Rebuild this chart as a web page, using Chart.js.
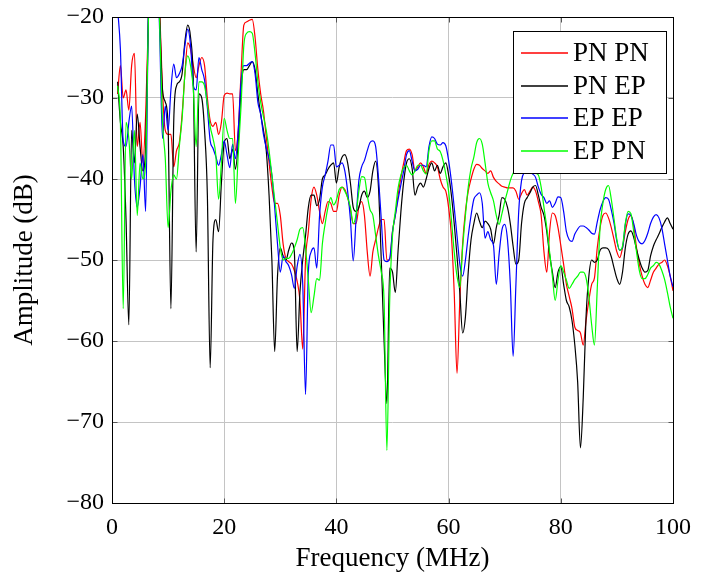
<!DOCTYPE html>
<html>
<head>
<meta charset="utf-8">
<script src="https://cdn.jsdelivr.net/npm/chart.js@4.4.0/dist/chart.umd.min.js"></script>
<style>
html,body{margin:0;padding:0;background:#fff;}
#wrap{width:722px;height:574px;}
</style>
</head>
<body>
<div id="wrap"><canvas id="c" width="722" height="574"></canvas></div>
<script>
// sample grid: 1 .. 100 MHz every 0.5 MHz (rows below = 5 MHz each)
const FREQ_START = 1, FREQ_STEP = 0.5;

const pnpn = [
-29.5,-26,-30,-29,-31.5,-26,-24.5,-36,-33,-38,
-32,-20,-12,-12,-12,-19,-29,-34,-34.5,-34.5,
-38.5,-36.5,-35.5,-32,-27,-23.2,-24,-26,-27.5,-26,
-25,-26,-30,-32.8,-33.5,-33,-34.5,-33,-29.7,-29.4,
-29.5,-29.5,-36.5,-34,-27,-21,-20.6,-20.4,-20.3,-22.5,
-26.5,-29.5,-31.6,-34.8,-38,-41,-43,-43,-44.5,-48,
-49.8,-50.2,-50.5,-51.3,-52.6,-55,-61,-50,-46.5,-42.5,
-41,-42,-44,-45.5,-44,-42.8,-43,-44,-44,-42,
-41,-41.3,-42.3,-43.8,-45.5,-45.5,-43.5,-42.8,-44.5,-49,
-52,-49,-47.5,-46,-45,-45,-50,-50,-46.5,-44.5,
-42,-39.8,-38,-36.5,-36.3,-37,-39,-38.5,-38,-38.5,
-39.3,-38.2,-37.8,-38,-38.5,-40,-41,-41.5,-43.5,-47,
-54,-64,-55,-48,-44,-41.5,-40,-38.8,-38.2,-38.3,
-38.7,-39,-39.3,-39,-39.8,-40.3,-40.6,-40.9,-41,-41.1,
-41.1,-41.1,-41.5,-42.5,-41.8,-41.3,-42,-41.5,-41,-41.5,
-42.8,-44.5,-49,-51.5,-46.5,-44.2,-44.5,-46,-48.2,-50.5,
-53,-54.5,-56,-58.3,-58.7,-59,-60.5,-57.5,-55,-53,
-52.2,-48.5,-46,-44.5,-44.2,-44.8,-46,-47.5,-49,-49.7,
-48.5,-46.5,-45,-44.5,-45.8,-48.5,-50.5,-52,-53,-53.4,
-52.5,-51.5,-51,-50.5,-50.3,-50,-50.7,-52,-53.8
];

const pnep = [
-28,-33,-36,-45,-58,-34,-38,-32,-36,-39,
-36,-20,-12,-12,-12,-20,-29,-30.5,-33.5,-56,
-33,-28.5,-28,-27,-23,-21,-22.5,-28,-49,-29.5,
-30,-34,-42,-63.3,-47.5,-45,-46.5,-40.5,-35.5,-35,
-37.5,-36.3,-38.8,-35.5,-29,-26.5,-26.5,-26,-25.5,-26.5,
-29.5,-32,-34,-36.5,-42,-50,-61.3,-52,-48.5,-49.5,
-50,-48.8,-47.9,-49,-61.3,-54,-50,-47,-43.5,-42,
-42,-43.3,-42.5,-40,-39.5,-38.8,-38.3,-38,-40.5,-38.5,
-37.3,-37,-38,-40.5,-43.5,-44,-43.5,-42,-41.5,-42.3,
-41.5,-39,-37.8,-41,-50,-60,-67.7,-51,-51.5,-54,
-48.8,-44,-40.3,-38,-37.5,-38.7,-42,-41,-40.5,-41,
-40,-38.7,-38,-39,-38.3,-39.3,-38.5,-38,-39.5,-42,
-45.5,-49.5,-54,-59,-57,-51.5,-47.5,-45.5,-44.2,-45.2,
-46,-45.2,-45.5,-46.2,-48,-46,-44.5,-42.3,-42.5,-43.5,
-45.5,-48.3,-50.5,-50,-45.5,-43,-42.3,-41.7,-41,-40.8,
-42,-43.5,-44.5,-46.5,-49.3,-51.5,-53.4,-51.5,-50.8,-53,
-55,-55.8,-57.5,-60.5,-65,-73.2,-67,-57,-52,-50,
-50.3,-50,-48.8,-48.5,-48.5,-48.7,-49.6,-51,-52.3,-53,
-51.5,-48.5,-46.8,-46.4,-47.2,-48.7,-50,-51,-51.5,-51.3,
-49.5,-48.3,-47.5,-46.8,-46,-45.3,-44.8,-45.5,-46.2
];

const epep = [
-19,-24,-35.3,-36,-33,-31,-40,-43.5,-41,-37,
-44,-18,-12,-12,-12,-22,-35,-31,-34,-29,
-25.8,-27.5,-27,-26,-23.5,-21.5,-23.5,-28.5,-29,-25,
-26.5,-27.8,-31.2,-35.3,-36.2,-37.2,-38.3,-37,-35.3,-37,
-38.6,-35.7,-37.5,-34,-28,-26,-26,-25.7,-25.5,-27,
-30.5,-32,-34.5,-36.2,-37.5,-39.5,-43.5,-48,-51.5,-49.5,
-50.2,-50.7,-51.8,-53.5,-50.8,-49.3,-53,-66.6,-51.5,-49,
-48.5,-51,-44.5,-41,-39.5,-37.8,-35.8,-35.8,-38.5,-38.3,
-38,-39,-41.5,-45,-50.1,-45,-40.2,-38.5,-37.7,-36.5,
-35.5,-35.3,-36,-39.8,-45,-50,-50.2,-49.8,-46.5,-44.5,
-42.5,-40.7,-39,-37,-36.5,-37.8,-39,-38.8,-38.3,-38.3,
-38.5,-36,-34.8,-35,-35.7,-35.8,-35.5,-35.9,-37.7,-40.3,
-43.5,-47,-50.5,-52,-50,-47,-44.5,-42.5,-42,-41.7,
-43,-47.3,-46.5,-47.5,-48.2,-53,-49.3,-46.3,-45.6,-47.5,
-53,-61.9,-53,-44,-40.2,-39.2,-39,-39.2,-39.4,-39.8,
-41,-41.9,-42.3,-43,-42.7,-43.5,-43,-42.2,-42.3,-44,
-46.5,-47.5,-47.7,-46.8,-46.2,-45.8,-45.8,-46,-46.3,-46.7,
-46.8,-45.3,-43.8,-42.8,-42.3,-42.5,-43.8,-45.5,-47.7,-48.8,
-48.5,-45.6,-44.3,-44.5,-45.5,-47,-47.8,-48,-47.6,-46.7,
-45.5,-44.7,-44.4,-44.8,-46,-48,-50,-52,-53.3
];

const eppn = [
-28.5,-33,-56,-33,-35,-40,-34,-44.5,-38,-40,
-38,-20,-12,-12,-12,-21,-33,-37.5,-46,-41.5,
-39.5,-40,-36,-32.5,-27,-24.8,-26,-29,-36,-28,
-28,-28.5,-30.8,-33.5,-35,-37,-42.5,-38,-32.5,-34,
-35,-35,-43,-37,-31,-23.5,-22,-21.8,-22,-24.5,
-28,-30.5,-32.3,-34,-36.5,-39.5,-42.5,-45.5,-48.5,-50,
-49.8,-49.8,-49.3,-48.5,-47.5,-46.2,-46,-48.5,-52.5,-56.5,
-54.5,-52.3,-52.5,-48,-45.5,-43.5,-42.3,-43.2,-42.6,-41.3,
-41,-41.5,-42.3,-43.5,-45.5,-44.4,-41.5,-39.7,-39.8,-42,
-43.8,-44.5,-47,-49.5,-51.5,-55,-73.5,-55,-47,-44,
-41.1,-39.5,-38.6,-38.3,-39,-39.5,-39,-38.3,-38.3,-39,
-39.4,-36.5,-35.3,-35.3,-36.3,-36.6,-37.7,-39.4,-41.5,-45,
-49,-52,-53.4,-48.5,-44.5,-41,-38.7,-37.3,-35.5,-35,
-35.7,-38,-40.5,-41.7,-42.7,-44.5,-45.6,-44.3,-42.8,-41.5,
-40.2,-39.3,-38.8,-38.5,-38.3,-38.3,-38.6,-39,-39.2,-39.3,
-39.5,-41,-43.5,-46,-49,-52,-55,-52.5,-50.7,-51.5,
-52.5,-53.5,-53,-52.4,-52,-51.5,-51.5,-52.2,-54.5,-58,
-60.5,-53.5,-46,-43,-41.3,-40.8,-42.5,-45,-47.5,-48.8,
-48.3,-45.5,-44,-44.3,-46.5,-49,-51.3,-52.3,-52.3,-51.8,
-51,-50.7,-50.3,-50.5,-51.3,-52.4,-54,-55.8,-57.2
];

const seriesNames = ['PN PN', 'PN EP', 'EP EP', 'EP PN'];
const seriesColors = ['#ff0000', '#000000', '#0000ff', '#00ff00'];
const seriesData = [pnpn, pnep, epep, eppn];

const xTicks = [0, 20, 40, 60, 80, 100];
const yTicks = [-80, -70, -60, -50, -40, -30, -20];

const freq = pnpn.map((_, i) => FREQ_START + i * FREQ_STEP);
const FONT = "'Liberation Serif', 'DejaVu Serif', serif";
const minus = v => (v < 0 ? '\u2212' + Math.abs(v) : '' + v);

// frame + inner tick marks round the plot, boxed legend upper right (pgfplots look)
const framePlugin = {
  id: 'frame',
  afterDraw(chart){
    const {ctx, chartArea:a, scales} = chart;
    const L = Math.round(a.left)+0.5, T = Math.round(a.top)+0.5, R = Math.round(a.right)+0.5, B = Math.round(a.bottom)+0.5;
    ctx.save();
    ctx.strokeStyle = '#555'; ctx.lineWidth = 1;
    ctx.beginPath();
    xTicks.forEach(v => { const px = Math.round(scales.x.getPixelForValue(v))+0.5;
      ctx.moveTo(px, T); ctx.lineTo(px, T+5); ctx.moveTo(px, B); ctx.lineTo(px, B-5); });
    yTicks.forEach(v => { const py = Math.round(scales.y.getPixelForValue(v))+0.5;
      ctx.moveTo(L, py); ctx.lineTo(L+5, py); ctx.moveTo(R, py); ctx.lineTo(R-5, py); });
    ctx.stroke();
    ctx.strokeStyle = '#000';
    ctx.strokeRect(L, T, R-L, B-T);
    // legend
    const bx = 513, by = 31, bw = 153, bh = 142;
    ctx.fillStyle = '#fff';
    ctx.fillRect(bx, by, bw, bh);
    ctx.strokeStyle = '#000';
    ctx.strokeRect(bx+0.5, by+0.5, bw, bh);
    ctx.font = '27px ' + FONT;
    ctx.textBaseline = 'middle';
    seriesNames.forEach((name, i) => {
      const y = Math.round(by + 22 + i * 32.5);
      ctx.save();
      ctx.strokeStyle = seriesColors[i]; ctx.lineWidth = 1.5;
      ctx.beginPath(); ctx.moveTo(bx+8, y); ctx.lineTo(bx+55, y); ctx.stroke();
      ctx.restore();
      ctx.fillStyle = '#000';
      ctx.fillText(name, bx + 60, y + 1);
    });
    ctx.restore();
  }
};

const datasets = seriesData.map((vals, i) => ({
  label: seriesNames[i],
  data: vals.map((v, j) => ({x: freq[j], y: v})),
  borderColor: seriesColors[i],
  borderWidth: 1.2,
  pointRadius: 0,
  fill: false,
  cubicInterpolationMode: 'monotone',
  order: seriesData.length - i
}));

new Chart(document.getElementById('c'), {
  type: 'line',
  data: { datasets },
  options: {
    responsive: false,
    animation: false,
    devicePixelRatio: 1,
    layout: { padding: { left: 0, top: 17, right: 49, bottom: 0 } },
    plugins: { legend: { display: false }, tooltip: { enabled: false } },
    scales: {
      x: {
        type: 'linear', min: 0, max: 100,
        afterBuildTicks: s => { s.ticks = xTicks.map(v => ({value: v})); },
        afterFit: s => { s.height = 71; },
        ticks: { color: '#000', font: { family: FONT, size: 24 }, padding: 10, maxRotation: 0 },
        grid: { color: '#c4c4c4', lineWidth: 1, drawTicks: false },
        border: { display: false },
        title: { display: true, text: 'Frequency (MHz)', color: '#000', font: { family: FONT, size: 27, lineHeight: 1.1 }, padding: { top: 0, bottom: 0 } }
      },
      y: {
        type: 'linear', min: -80, max: -20,
        afterBuildTicks: s => { s.ticks = yTicks.map(v => ({value: v})); },
        afterFit: s => { s.width = 112; s.paddingTop = 0; s.paddingBottom = 0; },
        ticks: { color: '#000', font: { family: FONT, size: 24 }, padding: 8, callback: minus },
        grid: { color: '#c4c4c4', lineWidth: 1, drawTicks: false },
        border: { display: false },
        title: { display: true, text: 'Amplitude (dB)', color: '#000', font: { family: FONT, size: 27, lineHeight: 1.1 }, padding: { top: 10, bottom: 0 } }
      }
    }
  },
  plugins: [framePlugin]
});
</script>
</body>
</html>
